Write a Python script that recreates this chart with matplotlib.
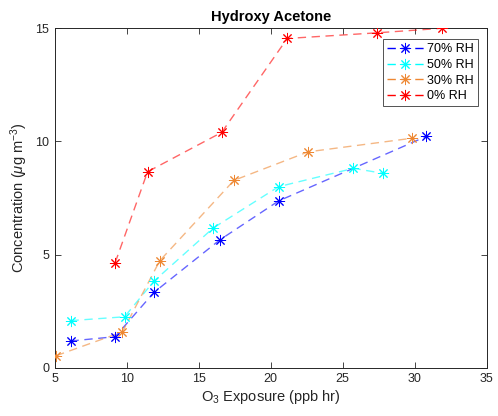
import matplotlib
matplotlib.use("Agg")
import matplotlib.pyplot as plt
from matplotlib.lines import Line2D

plt.rcParams['font.family'] = ['Liberation Sans', 'DejaVu Sans']
plt.rcParams['mathtext.fontset'] = 'custom'
plt.rcParams['mathtext.rm'] = 'Liberation Sans'
plt.rcParams['mathtext.it'] = 'Liberation Sans:italic'

# O3 exposure (ppb hr) and concentration (ug m-3) per RH condition
x_70 = [6.1, 9.2, 11.9, 16.45, 20.55, 30.8]
y_70 = [1.18, 1.37, 3.33, 5.64, 7.37, 10.22]

x_50 = [6.1, 9.85, 11.9, 16.0, 20.55, 25.75, 27.8]
y_50 = [2.08, 2.25, 3.83, 6.17, 8.0, 8.81, 8.59]

x_30 = [5.1, 9.7, 12.3, 17.45, 22.6, 29.8]
y_30 = [0.53, 1.58, 4.73, 8.28, 9.54, 10.14]

x_0 = [9.2, 11.45, 16.6, 21.15, 27.4, 31.9]
y_0 = [4.64, 8.66, 10.40, 14.55, 14.8, 15.0]

labels = ['70% RH', '50% RH', '30% RH', '0% RH']
colors = ['#0000FF', '#00FFFF', '#EE8833', '#FF0000']
series = [(x_70, y_70), (x_50, y_50), (x_30, y_30), (x_0, y_0)]

star = (8, 2, 0)

fig = plt.figure(figsize=(4.98, 4.16), dpi=100)
ax = fig.add_axes([0.1098, 0.1161, 0.8675, 0.8159])

handles = []
for (xs, ys), c, lab in zip(series, colors, labels):
    ax.plot(xs, ys, ls='--', dashes=(6, 4), lw=1.0, color=c, alpha=0.6)
    ax.plot(xs, ys, ls='none', marker=star, ms=8, mew=0.7, color=c, zorder=3)
    handles.append(Line2D([], [], ls='--', dashes=(6, 4), lw=1.0, color=c,
                          marker=star, ms=8, mew=0.7, label=lab))

ax.set_xlim(5, 35)
ax.set_ylim(0, 15)
ax.set_xticks([5, 10, 15, 20, 25, 30, 35])
ax.set_yticks([0, 5, 10, 15])
ax.tick_params(direction='in', top=True, right=True, length=4, width=0.6,
               labelsize=9, colors='#262626', labelcolor='#262626', pad=4)
for sp in ax.spines.values():
    sp.set_linewidth(0.7)
    sp.set_color('#262626')

ax.set_title('Hydroxy Acetone', fontsize=10.5, fontweight='bold', pad=5)
ax.set_xlabel('O$_3$ Exposure (ppb hr)', fontsize=10.5, color='#262626', labelpad=2)
ax.set_ylabel(r'Concentration ($\mathit{\mu}$g m$^{-3}$)', fontsize=10.5,
              color='#262626', labelpad=4)

leg = ax.legend(handles=handles, loc='upper right', fontsize=9,
                bbox_to_anchor=(0.9795, 0.967), frameon=True, fancybox=False,
                edgecolor='#262626', handlelength=3.0, handletextpad=0.25,
                labelspacing=0.3, borderpad=0.3, borderaxespad=0)
leg.get_frame().set_linewidth(0.7)

fig.savefig('out.png', dpi=100)
